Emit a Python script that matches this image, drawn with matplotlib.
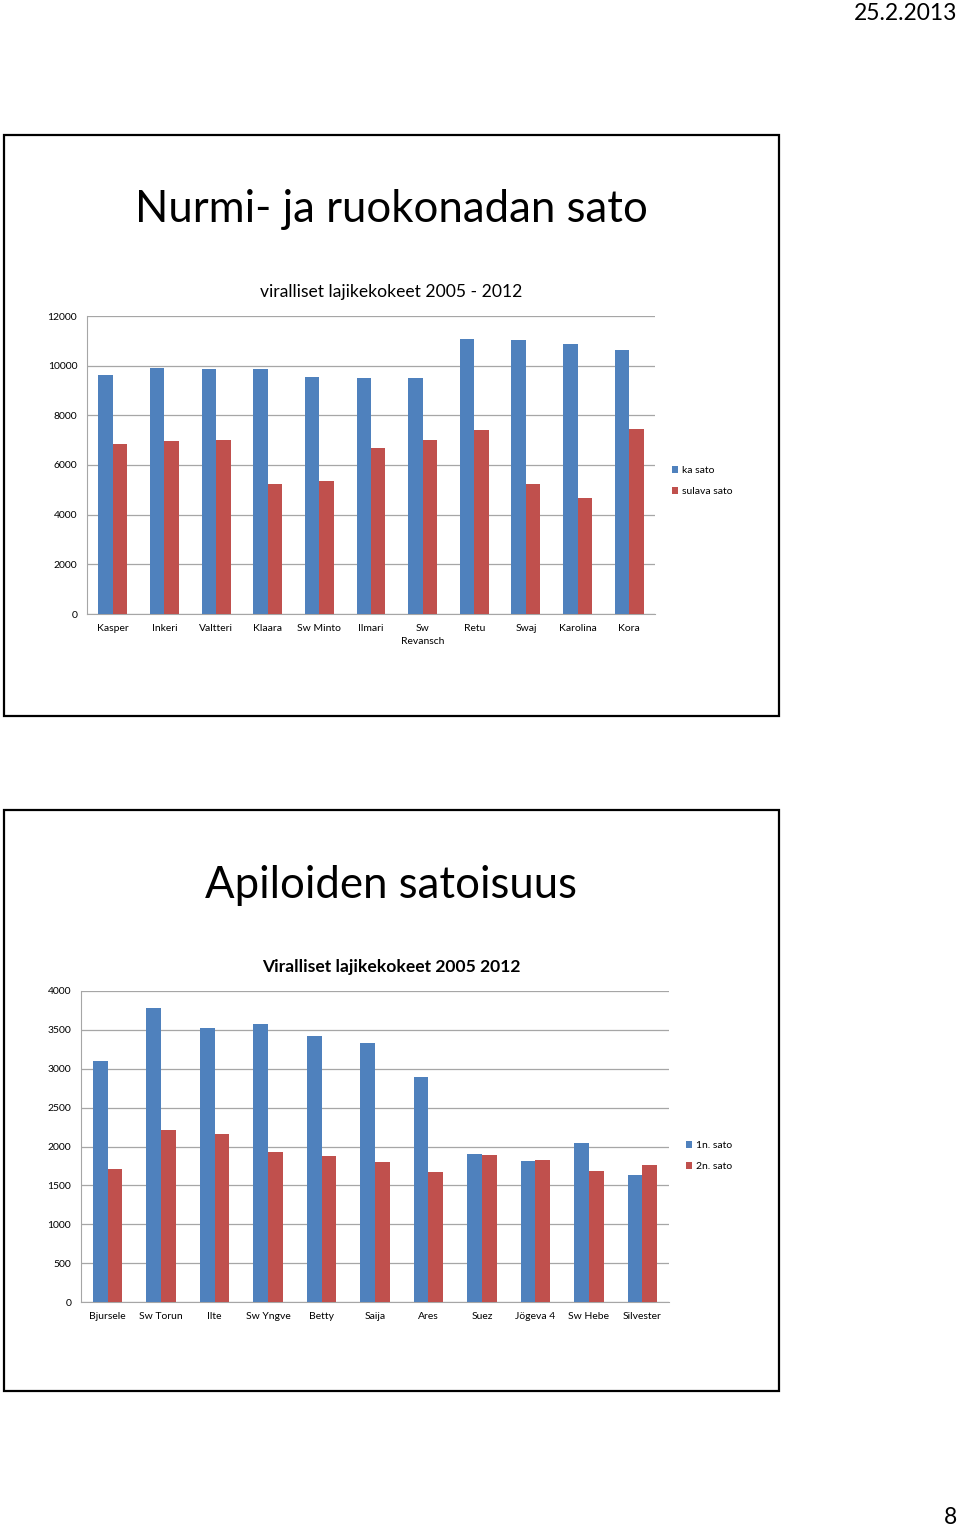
import matplotlib
matplotlib.use("Agg")
import matplotlib.pyplot as plt
import numpy as np
from matplotlib.patches import Rectangle

plt.rcParams['font.family'] = ['Lato', 'DejaVu Sans']

# chart 1 data
lajikkeet1 = ['Kasper', 'Inkeri', 'Valtteri', 'Klaara', 'Sw Minto', 'Ilmari',
              'Sw\nRevansch', 'Retu', 'Swaj', 'Karolina', 'Kora']
ka_sato = [9630, 9900, 9870, 9860, 9540, 9510, 9510, 11080, 11050, 10890, 10620]
sulava_sato = [6830, 6960, 7020, 5250, 5345, 6670, 7020, 7410, 5250, 4660, 7435]
yticks1 = [0, 2000, 4000, 6000, 8000, 10000, 12000]

# chart 2 data
lajikkeet2 = ['Bjursele', 'Sw Torun', 'Ilte', 'Sw Yngve', 'Betty', 'Saija',
              'Ares', 'Suez', 'Jögeva 4', 'Sw Hebe', 'Silvester']
sato_1n = [3100, 3778, 3529, 3576, 3426, 3336, 2891, 1906, 1812, 2039, 1628]
sato_2n = [1705, 2206, 2167, 1932, 1872, 1799, 1670, 1885, 1829, 1688, 1765]
yticks2 = [0, 500, 1000, 1500, 2000, 2500, 3000, 3500, 4000]

BLUE = '#4F81BD'
RED = '#C0504D'
W, H = 960, 1527

fig = plt.figure(figsize=(W / 100, H / 100), dpi=100)


def fx(x):
    return x / W


def fy(y):
    return 1 - y / H


def slide_box(y0, y1):
    fig.patches.append(Rectangle((fx(4), fy(y1)), fx(779) - fx(4), fy(y0) - fy(y1),
                                 transform=fig.transFigure, fill=False,
                                 edgecolor='black', linewidth=1.6))


def bar_chart(rect, cats, s1, s2, names, yticks, bw):
    ax = fig.add_axes(rect)
    x = np.arange(len(cats))
    ax.bar(x - bw / 2, s1, bw, color=BLUE, label=names[0], zorder=3)
    ax.bar(x + bw / 2, s2, bw, color=RED, label=names[1], zorder=3)
    ax.set_xlim(-0.5, len(cats) - 0.5)
    ax.set_ylim(yticks[0], yticks[-1])
    ax.set_yticks(yticks)
    ax.set_xticks(x)
    ax.set_xticklabels(cats, fontsize=7.5, linespacing=1.55)
    ax.tick_params(axis='y', length=0, labelsize=7.5, pad=7)
    ax.tick_params(axis='x', length=0, labelsize=7.5, pad=7.5)
    ax.grid(axis='y', color='#a6a6a6', linewidth=0.9, zorder=0)
    for s in ['top', 'right']:
        ax.spines[s].set_visible(False)
    ax.spines['left'].set_color('#a6a6a6')
    ax.spines['bottom'].set_color('#a6a6a6')
    ax.set_facecolor('none')
    return ax


def add_legend(ax, x, y):
    ax.legend(loc='upper left', bbox_to_anchor=(fx(x), fy(y)),
              bbox_transform=fig.transFigure, frameon=False, fontsize=7.5,
              handlelength=0.6, handleheight=0.6, handletextpad=0.35,
              labelspacing=1.15, borderaxespad=0, borderpad=0)


# slide 1
slide_box(135, 716)
fig.text(fx(391), fy(210), 'Nurmi- ja ruokonadan sato', fontsize=31.5,
         ha='center', va='center')
fig.text(fx(391), fy(292), 'viralliset lajikekokeet 2005 - 2012', fontsize=12.6,
         ha='center', va='center')
ax1 = bar_chart([fx(87), fy(614), fx(655) - fx(87), fy(316) - fy(614)],
                lajikkeet1, ka_sato, sulava_sato, ['ka sato', 'sulava sato'],
                yticks1, 0.28)
add_legend(ax1, 672, 466)

# slide 2
slide_box(810, 1391)
fig.text(fx(391), fy(885), 'Apiloiden satoisuus', fontsize=31.5,
         ha='center', va='center')
fig.text(fx(391), fy(967), 'Viralliset lajikekokeet 2005 2012', fontsize=12.6,
         fontweight='bold', ha='center', va='center')
ax2 = bar_chart([fx(81), fy(1302), fx(669) - fx(81), fy(991) - fy(1302)],
                lajikkeet2, sato_1n, sato_2n, ['1n. sato', '2n. sato'],
                yticks2, 0.275)
add_legend(ax2, 686, 1141)

# page header / footer
fig.text(fx(957), fy(13), '25.2.2013', fontsize=16.5, ha='right', va='center')
fig.text(fx(957), fy(1517), '8', fontsize=16.5, ha='right', va='center')

fig.savefig('out.png', dpi=100)
